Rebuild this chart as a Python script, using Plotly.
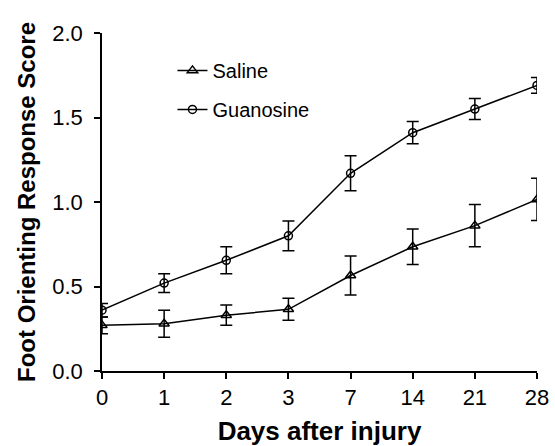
import plotly.graph_objects as go

days = ["0", "1", "2", "3", "7", "14", "21", "28"]
saline = [0.27, 0.28, 0.33, 0.365, 0.565, 0.735, 0.86, 1.015]
saline_err = [0.05, 0.08, 0.06, 0.065, 0.115, 0.105, 0.125, 0.125]
guanosine = [0.36, 0.52, 0.655, 0.80, 1.17, 1.41, 1.55, 1.69]
guanosine_err = [0.04, 0.055, 0.08, 0.088, 0.103, 0.066, 0.062, 0.046]
y_ticks = [0.0, 0.5, 1.0, 1.5, 2.0]

fig = go.Figure()
fig.add_trace(go.Scatter(
    x=days, y=saline, name="Saline", mode="lines+markers", legendgroup="s",
    line=dict(color="black", width=1.5),
    marker=dict(symbol="triangle-up-open", size=9, color="black", line=dict(width=1.5)),
    error_y=dict(type="data", array=saline_err, color="black", thickness=1.5, width=6),
))
fig.add_trace(go.Scatter(
    x=days, y=guanosine, name="Guanosine", mode="lines+markers", legendgroup="g",
    line=dict(color="black", width=1.5),
    marker=dict(symbol="circle-open", size=8, color="black", line=dict(width=1.5)),
    error_y=dict(type="data", array=guanosine_err, color="black", thickness=1.5, width=6),
))

fig.update_layout(
    width=555, height=446,
    margin=dict(l=102, r=18, t=33, b=75),
    plot_bgcolor="white", paper_bgcolor="white",
    font=dict(family="Liberation Sans, Arial", size=22, color="black"),
    showlegend=True,
    legend=dict(x=0.162, y=0.947, xanchor="left", yanchor="top",
                bgcolor="rgba(0,0,0,0)", font=dict(size=20),
                traceorder="grouped", tracegroupgap=10, itemwidth=30),
    xaxis=dict(
        type="category", range=[0, 7], showgrid=False, zeroline=False,
        showline=True, linecolor="black", linewidth=1.5, automargin=False,
        ticks="outside", ticklen=6, tickwidth=1.5, tickcolor="black",
        ticklabelstandoff=0,
        title=dict(text="<b>Days after injury</b>", font=dict(size=26), standoff=16),
    ),
    yaxis=dict(
        range=[0, 2.0], tickvals=y_ticks, tickformat=".1f", showgrid=False, zeroline=False,
        showline=True, linecolor="black", linewidth=1.5, automargin=False,
        ticks="outside", ticklen=6, tickwidth=1.5, tickcolor="black",
        ticklabelstandoff=7,
        title=dict(text="<b>Foot Orienting Response Score</b>", font=dict(size=24), standoff=10),
    ),
)
fig.write_html("out.html", config={"displayModeBar": False},
               post_script="document.body.style.margin='0';document.body.style.overflow='hidden';")
